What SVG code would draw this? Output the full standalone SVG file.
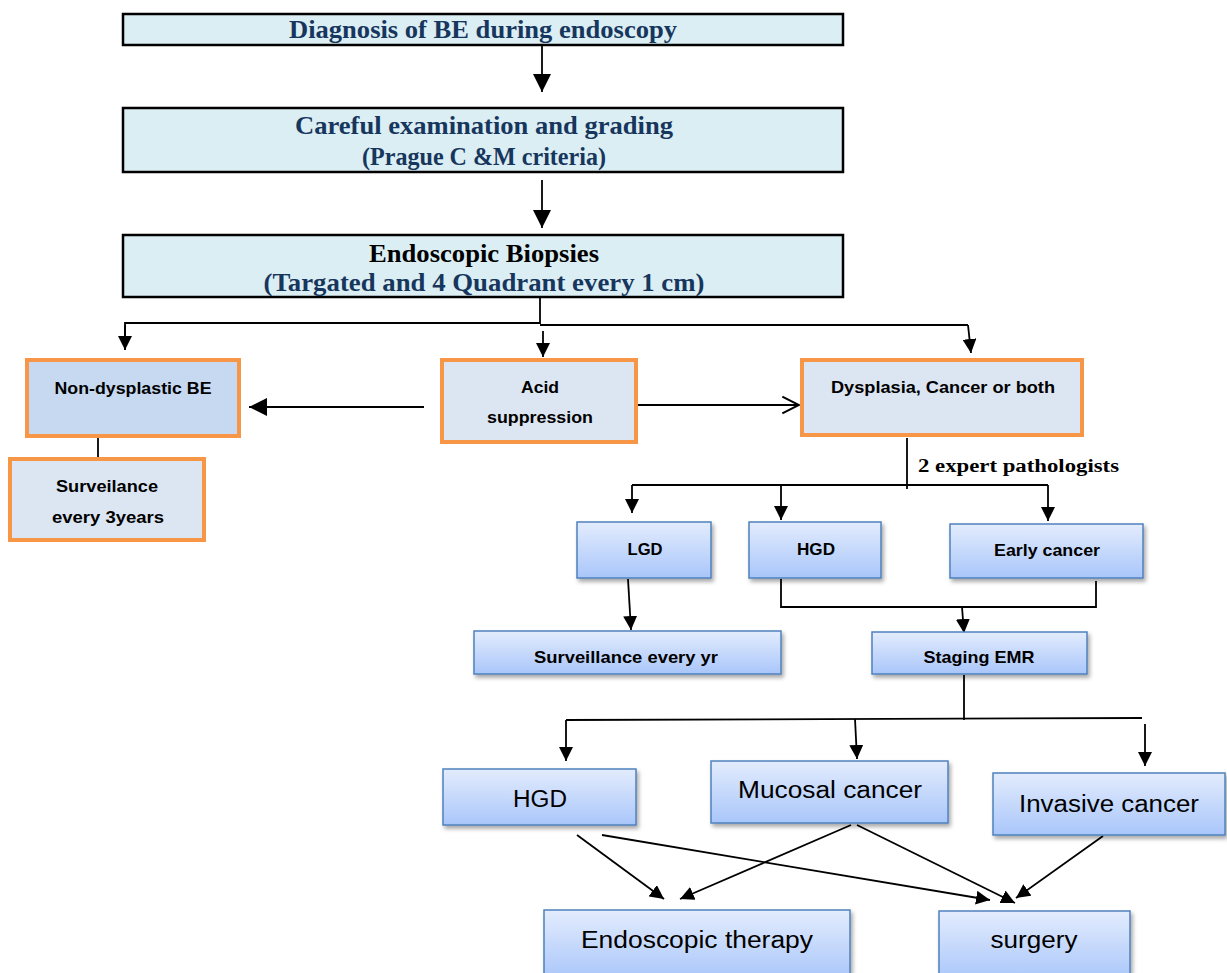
<svg xmlns="http://www.w3.org/2000/svg" width="1227" height="973" viewBox="0 0 1227 973">
  <defs>
    <linearGradient id="blueGrad" x1="0" y1="0" x2="0" y2="1">
      <stop offset="0" stop-color="#E3ECFD"/>
      <stop offset="1" stop-color="#A9C6FA"/>
    </linearGradient>
    <filter id="shadow" x="-10%" y="-10%" width="130%" height="140%">
      <feDropShadow dx="2" dy="3" stdDeviation="2" flood-color="#000" flood-opacity="0.35"/>
    </filter>
    <marker id="arrow" viewBox="0 0 10 10" refX="10" refY="5" markerWidth="14" markerHeight="14" markerUnits="userSpaceOnUse" orient="auto">
      <path d="M0,0 L10,5 L0,10 Z" fill="#000"/>
    </marker>
    <marker id="arrowBig" viewBox="0 0 10 10" refX="10" refY="5" markerWidth="18" markerHeight="18" markerUnits="userSpaceOnUse" orient="auto">
      <path d="M0,0 L10,5 L0,10 Z" fill="#000"/>
    </marker>
    <marker id="openArrow" viewBox="0 0 12 12" refX="11" refY="6" markerWidth="20" markerHeight="20" markerUnits="userSpaceOnUse" orient="auto">
      <path d="M1,1 L11,6 L1,11" fill="none" stroke="#000" stroke-width="1.2"/>
    </marker>
  </defs>
  <style>
    .top { fill: #DBEEF3; stroke: #000; stroke-width: 2.5; }
    .orange { fill: #DCE6F2; stroke: #F79646; stroke-width: 4; }
    .orangeDark { fill: #C6D9F1; stroke: #F79646; stroke-width: 4; }
    .blue { fill: url(#blueGrad); stroke: #4F81BD; stroke-width: 1.5; filter: url(#shadow); }
    .serifNavy { font-family: "Liberation Serif", "Times New Roman", serif; font-weight: bold; font-size: 25px; fill: #17365D; text-anchor: middle; }
    .serifBlack { font-family: "Liberation Serif", "Times New Roman", serif; font-weight: bold; font-size: 25px; fill: #000; text-anchor: middle; }
    .label { font-family: "Liberation Sans", Arial, sans-serif; font-weight: bold; font-size: 17px; fill: #000; text-anchor: middle; }
    .big { font-family: "Liberation Sans", Arial, sans-serif; font-size: 23px; fill: #000; text-anchor: middle; }
    .note { font-family: "Liberation Serif", "Times New Roman", serif; font-weight: bold; font-size: 18px; fill: #000; }
    .conn { fill: none; stroke: #000; stroke-width: 1.8; }
  </style>

  <!-- connectors -->
  <g id="connectors">
    <line class="conn" x1="542" y1="45" x2="542" y2="92" marker-end="url(#arrowBig)"/>
    <line class="conn" x1="542" y1="180" x2="542" y2="228" marker-end="url(#arrowBig)"/>
    <line class="conn" x1="540" y1="297" x2="540" y2="324"/>
    <polyline class="conn" points="125,350 125,323 540,323"/>
    <polyline class="conn" points="540,325 968,325"/>
    <line class="conn" x1="125" y1="325" x2="125" y2="350" marker-end="url(#arrow)"/>
    <line class="conn" x1="543" y1="331" x2="543" y2="357" marker-end="url(#arrow)"/>
    <line class="conn" x1="968" y1="325" x2="971" y2="353" marker-end="url(#arrow)"/>
    <line class="conn" x1="424" y1="407" x2="249" y2="407" marker-end="url(#arrowBig)"/>
    <line class="conn" x1="636" y1="405" x2="799" y2="405" marker-end="url(#openArrow)"/>
    <line class="conn" x1="98" y1="437" x2="98" y2="458"/>
    <line class="conn" x1="907" y1="438" x2="907" y2="489"/>
    <polyline class="conn" points="632,485 1048,485"/>
    <line class="conn" x1="632" y1="485" x2="632" y2="513" marker-end="url(#arrow)"/>
    <line class="conn" x1="781" y1="485" x2="781" y2="520" marker-end="url(#arrow)"/>
    <line class="conn" x1="1048" y1="485" x2="1048" y2="521" marker-end="url(#arrow)"/>
    <line class="conn" x1="628" y1="579" x2="631" y2="630" marker-end="url(#arrow)"/>
    <polyline class="conn" points="781,579 781,607 1096,607 1096,581"/>
    <line class="conn" x1="962" y1="607" x2="964" y2="633" marker-end="url(#arrow)"/>
    <line class="conn" x1="964" y1="675" x2="964" y2="720"/>
    <polyline class="conn" points="566,720 1142,718"/>
    <line class="conn" x1="566" y1="720" x2="566" y2="761" marker-end="url(#arrow)"/>
    <line class="conn" x1="855" y1="719" x2="857" y2="759" marker-end="url(#arrow)"/>
    <line class="conn" x1="1145" y1="724" x2="1145" y2="766" marker-end="url(#arrow)"/>
    <line class="conn" x1="577" y1="835" x2="664" y2="899" marker-end="url(#arrow)"/>
    <line class="conn" x1="602" y1="835" x2="990" y2="900" marker-end="url(#arrow)"/>
    <line class="conn" x1="851" y1="825" x2="680" y2="899" marker-end="url(#arrow)"/>
    <line class="conn" x1="857" y1="825" x2="1015" y2="903" marker-end="url(#arrow)"/>
    <line class="conn" x1="1103" y1="836" x2="1016" y2="898" marker-end="url(#arrow)"/>
  </g>

  <!-- top sequence -->
  <g id="diagnosis">
    <rect class="top" x="123" y="14" width="720" height="31"/>
    <text class="serifNavy" x="483" y="38" textLength="388" lengthAdjust="spacingAndGlyphs">Diagnosis of BE during endoscopy</text>
  </g>
  <g id="examination">
    <rect class="top" x="123" y="108" width="720" height="64"/>
    <text class="serifNavy" x="484" y="134" textLength="378" lengthAdjust="spacingAndGlyphs">Careful examination and grading</text>
    <text class="serifNavy" x="484" y="165" textLength="244" lengthAdjust="spacingAndGlyphs">(Prague C &amp;M criteria)</text>
  </g>
  <g id="biopsies">
    <rect class="top" x="123" y="235" width="720" height="62"/>
    <text class="serifBlack" x="484" y="262" textLength="230" lengthAdjust="spacingAndGlyphs">Endoscopic Biopsies</text>
    <text class="serifNavy" x="484" y="291" textLength="441" lengthAdjust="spacingAndGlyphs">(Targated and 4 Quadrant every 1 cm)</text>
  </g>

  <!-- biopsy outcomes -->
  <g id="non-dysplastic">
    <rect class="orangeDark" x="27" y="360" width="212" height="76"/>
    <text class="label" x="133" y="394" textLength="157" lengthAdjust="spacingAndGlyphs">Non-dysplastic BE</text>
  </g>
  <g id="surveilance-3y">
    <rect class="orange" x="10" y="459" width="194" height="81"/>
    <text class="label" x="107" y="492" textLength="102" lengthAdjust="spacingAndGlyphs">Surveilance</text>
    <text class="label" x="108" y="523" textLength="112" lengthAdjust="spacingAndGlyphs">every 3years</text>
  </g>
  <g id="acid-suppression">
    <rect class="orange" x="442" y="360" width="194" height="82"/>
    <text class="label" x="540" y="393" textLength="38" lengthAdjust="spacingAndGlyphs">Acid</text>
    <text class="label" x="540" y="423" textLength="106" lengthAdjust="spacingAndGlyphs">suppression</text>
  </g>
  <g id="dysplasia">
    <rect class="orange" x="802" y="360" width="280" height="75"/>
    <text class="label" x="943" y="393" textLength="224" lengthAdjust="spacingAndGlyphs">Dysplasia, Cancer or both</text>
  </g>
  <text class="note" x="918" y="472" textLength="201" lengthAdjust="spacingAndGlyphs">2 expert pathologists</text>

  <!-- pathology grading -->
  <g id="lgd">
    <rect class="blue" x="577" y="522" width="134" height="56"/>
    <text class="label" x="645" y="555" textLength="35" lengthAdjust="spacingAndGlyphs">LGD</text>
  </g>
  <g id="hgd-path">
    <rect class="blue" x="749" y="522" width="132" height="56"/>
    <text class="label" x="816" y="555" textLength="38" lengthAdjust="spacingAndGlyphs">HGD</text>
  </g>
  <g id="early-cancer">
    <rect class="blue" x="950" y="524" width="193" height="54"/>
    <text class="label" x="1047" y="556" textLength="106" lengthAdjust="spacingAndGlyphs">Early cancer</text>
  </g>
  <g id="surveillance-yr">
    <rect class="blue" x="474" y="631" width="307" height="43"/>
    <text class="label" x="626" y="663" textLength="184" lengthAdjust="spacingAndGlyphs">Surveillance every yr</text>
  </g>
  <g id="staging-emr">
    <rect class="blue" x="872" y="632" width="215" height="42"/>
    <text class="label" x="979" y="663" textLength="111" lengthAdjust="spacingAndGlyphs">Staging EMR</text>
  </g>

  <!-- staging outcomes -->
  <g id="hgd-stage">
    <rect class="blue" x="443" y="769" width="193" height="56"/>
    <text class="big" x="540" y="807" textLength="54" lengthAdjust="spacingAndGlyphs">HGD</text>
  </g>
  <g id="mucosal-cancer">
    <rect class="blue" x="711" y="761" width="237" height="62"/>
    <text class="big" x="830" y="798" textLength="184" lengthAdjust="spacingAndGlyphs">Mucosal cancer</text>
  </g>
  <g id="invasive-cancer">
    <rect class="blue" x="993" y="773" width="232" height="62"/>
    <text class="big" x="1109" y="812" textLength="180" lengthAdjust="spacingAndGlyphs">Invasive cancer</text>
  </g>

  <!-- treatment -->
  <g id="endoscopic-therapy">
    <rect class="blue" x="544" y="910" width="306" height="70"/>
    <text class="big" x="697" y="948" textLength="232" lengthAdjust="spacingAndGlyphs">Endoscopic therapy</text>
  </g>
  <g id="surgery">
    <rect class="blue" x="939" y="911" width="191" height="70"/>
    <text class="big" x="1034" y="948" textLength="87" lengthAdjust="spacingAndGlyphs">surgery</text>
  </g>
</svg>
